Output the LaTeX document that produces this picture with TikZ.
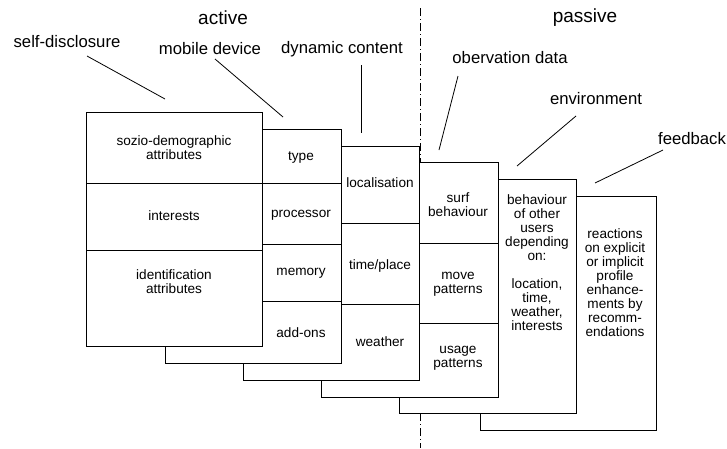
\documentclass[tikz,border=0pt]{standalone}
\usepackage{fontspec}
\setmainfont{Liberation Sans}
\tikzset{
  card/.style={draw=black, fill=white, line width=0.9pt},
  cell/.style={font=\fontsize{13.6}{14}\selectfont, align=center, inner sep=0pt},
  lbl/.style={font=\fontsize{16.7}{20}\selectfont, inner sep=0pt},
  side/.style={font=\fontsize{19}{22}\selectfont, inner sep=0pt},
  leader/.style={line width=0.8pt}
}
\begin{document}
\begin{tikzpicture}[x=1pt,y=-1pt]
    \useasboundingbox (0,0) rectangle (727,448);
    % split between active and passive
    \coordinate (splittop) at (420,8);
    \coordinate (splitbot) at (420,448);
    \draw[line width=0.8pt, dash pattern=on 8pt off 3pt on 1pt off 3pt] (splittop) -- (splitbot);
    \node[side] (active) at (223,18) {active};
    \node[side] (passive) at (585,18) {passive};
    % cards, back to front
    \draw[card] (480,196) rectangle (656,430);
    \node[cell] (reac) at (615,283) {reactions\\on explicit\\or implicit\\profile\\enhance-\\ments by\\recomm-\\endations};
    \draw[card] (399,179) rectangle (576,413);
    \node[cell] (others) at (537,263) {behaviour\\of other\\users\\depending\\on:\\[14pt]location,\\time,\\weather,\\interests};
    \draw[card] (321,162) rectangle (498,397);
    \draw (321,243) -- (498,243);
    \draw (321,323) -- (498,323);
    \node[cell] (surf) at (458,205) {surf\\behaviour};
    \node[cell] (move) at (458,284) {move\\patterns};
    \node[cell] (usage) at (458,358) {usage\\patterns};
    \draw[card] (243,146) rectangle (419,380);
    \draw (243,223) -- (419,223);
    \draw (243,304) -- (419,304);
    \node[cell] (loc) at (380,183) {localisation};
    \node[cell] (time) at (380,266) {time/place};
    \node[cell] (weather) at (380,342) {weather};
    \draw[card] (165,129) rectangle (341,363);
    \draw (165,183) -- (341,183);
    \draw (165,244) -- (341,244);
    \draw (165,301) -- (341,301);
    \node[cell] (type) at (301,158) {type};
    \node[cell] (proc) at (301,215) {processor};
    \node[cell] (mem) at (301,273) {memory};
    \node[cell] (addons) at (301,333) {add-ons};
    \draw[card] (86,112) rectangle (262,346);
    \draw (86,183) -- (262,183);
    \draw (86,250) -- (262,250);
    \node[cell] (sozio) at (174,148) {sozio-demographic\\attributes};
    \node[cell] (inter) at (174,216) {interests};
    \node[cell] (ident) at (174,282) {identification\\attributes};
    % labels and their leaders
    \node[lbl] (selfdis) at (67,42) {self-disclosure};
    \node[lbl] (mobile) at (210,49) {mobile device};
    \node[lbl] (dyn) at (342,49) {dynamic content};
    \node[lbl] (obs) at (510,58) {obervation data};
    \node[lbl] (env) at (596,99) {environment};
    \node[lbl] (feed) at (692,139) {feedback};
    \coordinate (selfdisa) at (87,56);   \coordinate (selfdisb) at (165,99);
    \coordinate (mobilea) at (215,59);   \coordinate (mobileb) at (283,117);
    \coordinate (dyna) at (361,65);      \coordinate (dynb) at (361,133);
    \coordinate (obsa) at (458,76);      \coordinate (obsb) at (439,150);
    \coordinate (enva) at (576,116);     \coordinate (envb) at (517,166);
    \coordinate (feeda) at (663,150);    \coordinate (feedb) at (595,183);
    \draw[leader] (selfdisa) -- (selfdisb);
    \draw[leader] (mobilea) -- (mobileb);
    \draw[leader] (dyna) -- (dynb);
    \draw[leader] (obsa) -- (obsb);
    \draw[leader] (enva) -- (envb);
    \draw[leader] (feeda) -- (feedb);
\end{tikzpicture}
\end{document}
